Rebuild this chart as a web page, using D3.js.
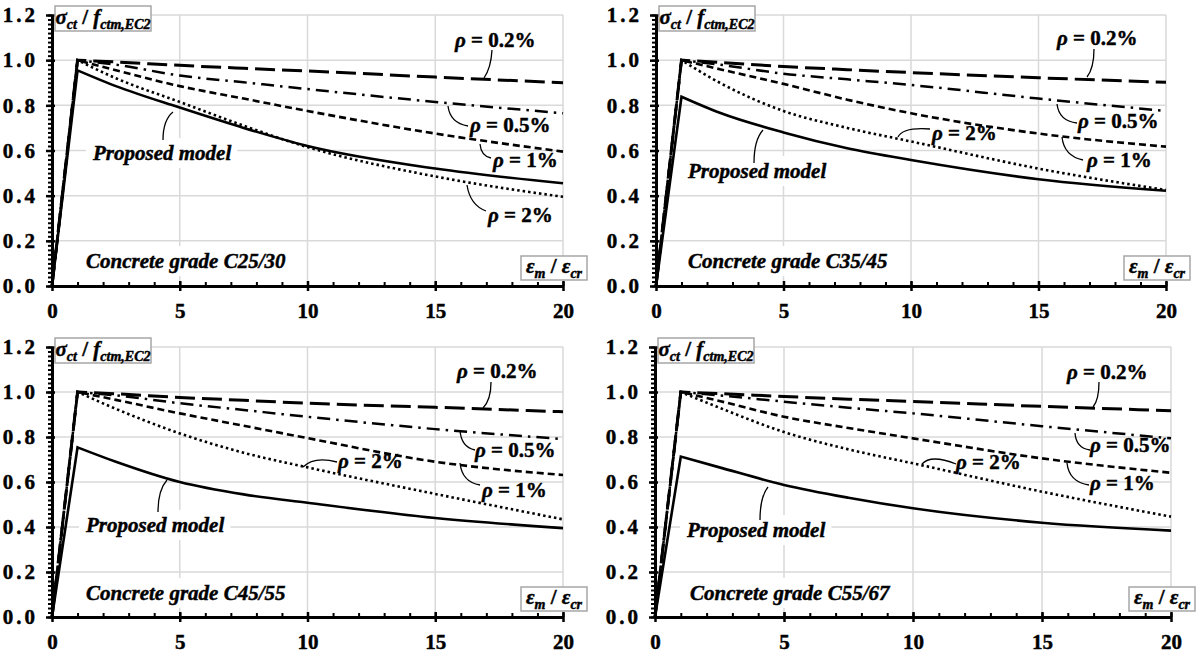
<!DOCTYPE html>
<html>
<head>
<meta charset="utf-8">
<script src="https://cdn.jsdelivr.net/npm/d3@7"></script>
</head>
<body style="margin:0;background:#fff">
<div id="chart"></div>
<script>
// strain ratio eps_m / eps_cr where values were read
var strain = [0, 1, 2.5, 5, 7.5, 10, 15, 20];

var grades = ["Concrete grade C25/30", "Concrete grade C35/45", "Concrete grade C45/55", "Concrete grade C55/67"];

// sigma_ct / f_ctm,EC2, one row per concrete grade
var proposed = [
    [0, 0.955, 0.885, 0.79, 0.70, 0.62, 0.52, 0.455],
    [0, 0.838, 0.767, 0.68, 0.61, 0.558, 0.473, 0.422],
    [0, 0.754, 0.69, 0.60, 0.545, 0.508, 0.44, 0.395],
    [0, 0.713, 0.665, 0.587, 0.53, 0.483, 0.419, 0.384]
];
var rho02 = [
    [0, 1.0, 0.992, 0.977, 0.964, 0.952, 0.925, 0.90],
    [0, 1.0, 0.99, 0.972, 0.958, 0.945, 0.922, 0.902],
    [0, 1.0, 0.992, 0.976, 0.963, 0.95, 0.932, 0.912],
    [0, 1.0, 0.993, 0.98, 0.968, 0.958, 0.936, 0.917]
];
var rho05 = [
    [0, 1.0, 0.98, 0.932, 0.902, 0.872, 0.815, 0.765],
    [0, 1.0, 0.98, 0.94, 0.915, 0.89, 0.83, 0.775],
    [0, 1.0, 0.985, 0.95, 0.92, 0.89, 0.835, 0.791],
    [0, 1.0, 0.985, 0.957, 0.93, 0.905, 0.848, 0.794]
];
var rho1 = [
    [0, 1.0, 0.955, 0.885, 0.83, 0.775, 0.675, 0.595],
    [0, 1.0, 0.96, 0.895, 0.825, 0.765, 0.675, 0.617],
    [0, 1.0, 0.965, 0.905, 0.85, 0.795, 0.69, 0.631],
    [0, 1.0, 0.96, 0.89, 0.84, 0.794, 0.705, 0.641]
];
var rho2 = [
    [0, 1.0, 0.92, 0.815, 0.71, 0.615, 0.485, 0.395],
    [0, 1.0, 0.90, 0.775, 0.70, 0.64, 0.52, 0.425],
    [0, 1.0, 0.925, 0.816, 0.73, 0.665, 0.547, 0.434],
    [0, 1.0, 0.93, 0.822, 0.745, 0.683, 0.557, 0.446]
];

var rhoLabels = {rho02: "0.2%", rho05: "0.5%", rho1: "1%", rho2: "2%"};
var xTicks = [0, 5, 10, 15, 20];
var yTicks = [0, 0.2, 0.4, 0.6, 0.8, 1.0, 1.2];

var FONT = "Liberation Serif";

// panel frames (plot area in px)
var panels = [
    {left: 52, top: 15, w: 511, h: 271},
    {left: 656, top: 15, w: 510, h: 271},
    {left: 52, top: 347, w: 511, h: 270},
    {left: 655, top: 347, w: 516, h: 270}
];

// annotation placement, local px: text [x, baseline], leader [x1,y1, cx,cy, x2,y2]
var notes = [
    {rho02: [[403, 32], [432, 63, 439, 53, 440, 35]],
     rho05: [[418, 117], [396, 91, 398, 108, 416, 111]],
     rho1: [[441, 152], [428, 129, 429, 141, 439, 143]],
     rho2: [[436, 207], [415, 170, 418, 190, 434, 196]],
     proposed: [[41, 145], [121, 97, 111, 105, 111, 125]],
     title: [34, 253]},
    {rho02: [[401, 30], [431, 62, 438, 53, 438, 34]],
     rho05: [[422, 113], [401, 89, 403, 106, 421, 108]],
     rho1: [[431, 152], [406, 122, 408, 141, 427, 145]],
     rho2: [[276, 125], [242, 122, 247, 112, 274, 114]],
     proposed: [[32, 163], [107, 115, 98, 125, 98, 148]],
     title: [32, 253]},
    {rho02: [[405, 31], [431, 61, 439, 53, 439, 35]],
     rho05: [[423, 110], [408, 83, 409, 100, 423, 103]],
     rho1: [[430, 150], [408, 116, 410, 135, 428, 138]],
     rho2: [[286, 121], [251, 120, 262, 109, 285, 115]],
     proposed: [[34, 185], [115, 133, 106, 143, 106, 165]],
     title: [34, 253]},
    {rho02: [[412, 32], [438, 60, 444, 53, 444, 35]],
     rho05: [[435, 105], [420, 86, 421, 101, 435, 103]],
     rho1: [[435, 143], [412, 116, 414, 135, 434, 138]],
     rho2: [[301, 122], [267, 117, 276, 107, 301, 117]],
     proposed: [[32, 190], [113, 140, 105, 150, 105, 173]],
     title: [35, 253]}
];

var styles = {
    rho02: {dash: "20,7", w: 3},
    rho05: {dash: "13,6,2.5,6", w: 2.5},
    rho1: {dash: "7,4", w: 2.6},
    rho2: {dash: "2.5,3", w: 2.6},
    proposed: {dash: null, w: 2.6}
};

var svg = d3.select("#chart").append("svg")
    .attr("width", 1198)
    .attr("height", 655)
    .attr("font-family", FONT)
    .style("font-family", FONT);

// bold Times-like text, with a hairline stroke to thicken it a bit
function serif(t, size, italic) {
    return t.attr("font-family", FONT)
        .style("font-family", FONT)
        .style("font-weight", "bold")
        .style("font-size", size + "px")
        .style("font-style", italic ? "italic" : "normal")
        .style("stroke", "#000")
        .style("stroke-width", "0.45px")
        .attr("fill", "#000");
}

function subText(sel, parts) {
    parts.forEach(function(p) {
        serif(sel.append("tspan"), p.sub ? 14 : 21, p.it)
            .attr("dy", p.dy || 0)
            .text(p.t);
    });
}

panels.forEach(function(p, i) {
    var g = svg.append("g").attr("transform", "translate(" + p.left + "," + p.top + ")");
    var x = d3.scaleLinear().domain([0, 20]).range([0, p.w]);
    var y = d3.scaleLinear().domain([0, 1.2]).range([p.h, 0]);

    // gridlines
    g.selectAll(".gx").data(xTicks.slice(1)).enter().append("line")
        .attr("x1", function(d) { return x(d); })
        .attr("x2", function(d) { return x(d); })
        .attr("y1", 0).attr("y2", p.h)
        .attr("stroke", "#d9d9d9").attr("stroke-width", 1.5);
    g.selectAll(".gy").data(yTicks.slice(1)).enter().append("line")
        .attr("x1", 0).attr("x2", p.w)
        .attr("y1", function(d) { return y(d); })
        .attr("y2", function(d) { return y(d); })
        .attr("stroke", "#d9d9d9").attr("stroke-width", 1.5);

    var bg = g.append("g");

    // curves: straight rise to peak, smooth decay after
    var mono = d3.line()
        .x(function(d) { return x(d[0]); })
        .y(function(d) { return y(d[1]); })
        .curve(d3.curveMonotoneX);
    var series = {rho02: rho02[i], rho05: rho05[i], rho1: rho1[i], rho2: rho2[i], proposed: proposed[i]};
    Object.keys(series).forEach(function(k) {
        var vals = series[k];
        var pts = strain.map(function(s, j) { return [s, vals[j]]; });
        var d = "M" + x(pts[0][0]) + "," + y(pts[0][1]) + "L" + mono(pts.slice(1)).slice(1);
        g.append("path")
            .attr("d", d)
            .attr("fill", "none")
            .attr("stroke", "#000")
            .attr("stroke-width", styles[k].w)
            .attr("stroke-dasharray", styles[k].dash);
    });

    // axes
    g.append("g").attr("transform", "translate(0," + p.h + ")")
        .call(d3.axisTop(x).tickValues(d3.range(0, 21, 1)).tickSize(4).tickFormat(""))
        .call(function(a) { a.select(".domain").remove(); })
        .selectAll("line").attr("stroke-width", 2);
    g.append("g")
        .call(d3.axisLeft(y).tickValues(d3.range(0, 61).map(function(k) { return k * 0.02; })).tickSize(4).tickFormat(""))
        .call(function(a) { a.select(".domain").remove(); })
        .selectAll("line").attr("stroke-width", 2);

    var ax = g.append("g").attr("transform", "translate(0," + p.h + ")")
        .call(d3.axisBottom(x).tickValues(xTicks).tickSizeInner(5).tickSizeOuter(0).tickPadding(12))
        .attr("font-family", FONT);
    ax.select(".domain").attr("stroke-width", 3);
    ax.selectAll(".tick line").attr("y1", -5).attr("stroke-width", 2.5);
    serif(ax.selectAll("text"), 21, false);

    var ay = g.append("g")
        .call(d3.axisLeft(y).tickValues(yTicks).tickSizeInner(6).tickSizeOuter(0).tickPadding(8).tickFormat(d3.format(".1f")))
        .attr("font-family", FONT);
    ay.select(".domain").attr("stroke-width", 3);
    ay.selectAll(".tick line").attr("x1", 3).attr("stroke-width", 2.5);
    serif(ay.selectAll("text"), 21, false).style("letter-spacing", "3px");

    // annotations
    var n = notes[i];
    ["rho02", "rho05", "rho1", "rho2"].forEach(function(k) {
        var l = n[k][1];
        g.append("path")
            .attr("d", "M" + l[0] + "," + l[1] + "Q" + l[2] + "," + l[3] + " " + l[4] + "," + l[5])
            .attr("fill", "none").attr("stroke", "#000").attr("stroke-width", 1.3);
        var t = serif(g.append("text"), 21, false).attr("x", n[k][0][0]).attr("y", n[k][0][1]);
        serif(t.append("tspan"), 21, true).text("\u03c1");
        serif(t.append("tspan"), 21, false).text(" = " + rhoLabels[k]);
    });

    var lp = n.proposed[1];
    g.append("path")
        .attr("d", "M" + lp[0] + "," + lp[1] + "Q" + lp[2] + "," + lp[3] + " " + lp[4] + "," + lp[5])
        .attr("fill", "none").attr("stroke", "#000").attr("stroke-width", 1.3);
    var pm = serif(g.append("text"), 21, true)
        .attr("x", n.proposed[0][0]).attr("y", n.proposed[0][1])
        .text("Proposed model");
    var tt = serif(g.append("text"), 21, true)
        .attr("x", n.title[0]).attr("y", n.title[1])
        .text(grades[i]);
    [pm, tt].forEach(function(t) {
        var b = t.node().getBBox();
        bg.append("rect")
            .attr("x", b.x - 6).attr("y", b.y - 3)
            .attr("width", b.width + 12).attr("height", b.height + 6)
            .attr("fill", "#fff");
    });

    // axis title boxes
    g.append("rect").attr("x", 3).attr("y", -9).attr("width", 96).attr("height", 25)
        .attr("fill", "#fff").attr("stroke", "#a6a6a6").attr("stroke-width", 1.5);
    var yl = serif(g.append("text"), 21, false).attr("x", 51).attr("y", 9).attr("text-anchor", "middle");
    subText(yl, [
        {t: "\u03c3", it: true}, {t: "ct", it: true, sub: true, dy: 5},
        {t: " / ", dy: -5}, {t: "f", it: true}, {t: "ctm,EC2", it: true, sub: true, dy: 5}
    ]);

    g.append("rect").attr("x", p.w - 42).attr("y", p.h - 30).attr("width", 66).attr("height", 24)
        .attr("fill", "#fff").attr("stroke", "#a6a6a6").attr("stroke-width", 1.5);
    var xl = serif(g.append("text"), 21, false).attr("x", p.w - 9).attr("y", p.h - 13).attr("text-anchor", "middle");
    subText(xl, [
        {t: "\u03b5", it: true}, {t: "m", it: true, sub: true, dy: 5},
        {t: " / ", dy: -5}, {t: "\u03b5", it: true}, {t: "cr", it: true, sub: true, dy: 5}
    ]);
});
</script>
</body>
</html>
